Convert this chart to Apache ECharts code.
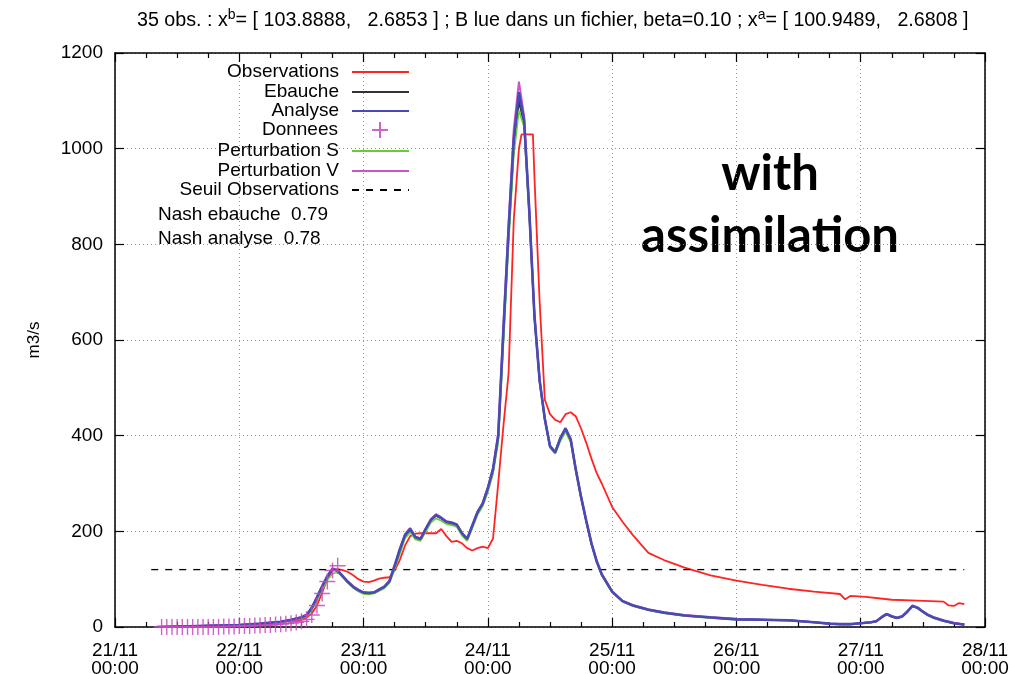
<!DOCTYPE html>
<html><head><meta charset="utf-8">
<script src="https://cdn.jsdelivr.net/npm/echarts@6/dist/echarts.min.js"></script>
<style>html,body{margin:0;padding:0;background:#fff}#c{width:1009px;height:674px}</style>
</head><body><div id="c"></div>
<script>
// ---- tick labels ----
const dayLabels = ['21/11','22/11','23/11','24/11','25/11','26/11','27/11','28/11'];
const timeLabel = '00:00';
// ---- data (x in hours since 21/11 00:00) ----
const obsHours = [8,12,16,20,24,28,32,36,37,38,39,40,41,42,43,44,45,46,47,48,49,50,51,52,53,54,55,56,57,58,59,60,61,62,63,64,65,66,67,68,69,70,71,72,73,74,75,76,77,78,78.5,79,80,80.7,81,82,83,84,85,86,87,88,89,90,91,92,93,94,96,98,100,103,106,110,115,120,125,130,135,140,141,142,145,150,155,160,161,162,163,164];
const obsValues = [0,0,1,2,3,6,10,15,20,28,45,72,100,118,121,119,115,108,100,95,94,97,101,103,104,118,140,170,190,195,196,196,196,196,205,190,178,180,175,165,160,165,168,165,185,300,420,530,850,1000,1030,1030,1030,1030,940,680,475,445,433,428,445,449,440,415,385,352,322,300,251,220,192,155,140,124,108,97,88,80,74,69,58,65,63,57,55,53,45,44,50,48];

const modelHours = [8,12,16,20,24,28,32,34,36,37,38,39,40,41,42,43,44,45,46,47,48,49,50,51,52,53,54,55,56,57,58,59,60,61,62,63,64,65,66,67,68,69,70,71,72,73,74,75,76,77,78,79,80,81,82,83,84,85,86,87,88,89,90,91,92,93,94,96,98,100,103,106,110,115,120,125,130,135,138,140,142,144,146,147,148,149,150,151,152,153,154,155,156,157,158,160,162,164];
const analyseValues = [0,1,2,3,4,7,11,15,20,25,40,62,85,106,121,118,106,94,84,77,72,71,72,78,84,96,128,162,192,205,188,184,205,224,234,228,220,218,214,196,184,212,240,258,290,330,400,620,830,1020,1118,1060,870,650,515,435,378,365,395,415,392,328,272,222,175,138,110,74,54,45,36,30,24,20,16,15,14,10,7,6,6,8,10,12,20,27,22,19,22,32,44,40,32,25,20,13,8,5];
const ebaucheValues = [0,1,2,3,4,7,11,15,20,25,39,61,84,105,120,117,105,93,83,76,71,70,72,77,83,95,127,160,190,203,187,183,204,223,233,227,219,217,213,195,183,211,239,257,289,328,395,610,820,1005,1100,1052,865,648,514,434,377,364,394,414,391,327,271,221,174,137,109,73,54,45,36,30,24,20,16,15,14,10,7,6,6,8,10,12,20,27,22,19,22,32,44,40,32,25,20,13,8,5];
const pertSValues = [0,1,2,3,4,6,10,14,18,22,35,55,78,98,112,114,104,92,82,74,69,68,70,75,81,92,120,152,185,198,183,180,199,218,227,222,215,213,209,191,180,206,234,252,282,320,385,590,800,985,1080,1045,862,646,512,432,375,362,388,408,386,324,269,220,173,136,108,72,53,44,35,29,23,19,15,14,13,10,7,6,6,8,10,12,20,26,22,19,22,31,43,39,31,24,19,12,8,5];
const pertVValues = [0,1,2,3,4,7,11,15,21,26,41,63,86,107,123,119,107,95,85,78,73,72,73,79,85,97,130,164,194,207,189,185,206,226,236,229,221,219,215,197,185,213,241,260,292,333,405,630,845,1040,1140,1068,875,653,517,436,379,366,396,416,393,329,273,223,176,139,111,75,55,46,37,31,25,21,17,15,14,10,7,6,6,8,10,12,21,28,23,20,23,33,45,41,33,26,21,14,9,5];

const donneesHours = [9,10,11,12,13,14,15,16,17,18,19,20,21,22,23,24,25,26,27,28,29,30,31,32,33,34,35,36,37,38,39,40,41,42,43];
const donneesValues = [0,0,0,0,0,0,0,0,0,0,0,0,1,1,1,2,2,2,3,3,4,4,5,6,7,8,10,12,16,25,45,70,95,118,128];

const seuilHours = [7,164];
const seuilValues = [120,120];

const nashLines = ['Nash ebauche  0.79', 'Nash analyse  0.78'];
const overlayText = ['with', 'assimilation'];

function pairs(xs, ys){ return xs.map((x,i)=>[x, ys[i]]); }

const FONT = 'Liberation Sans';
const FS = 19;
const names = ['Observations','Ebauche','Analyse','Donnees','Perturbation S','Perturbation V','Seuil Observations'];
const legendTops = [62,82,101,121,141,161,180];

const chart = echarts.init(document.getElementById('c'), null, {renderer:'canvas'});

const xAxisBase = {
  type:'value', min:0, max:168, interval:24,
  axisLine:{show:true, onZero:false, lineStyle:{color:'#000', width:1.5}},
  axisTick:{show:true, inside:true, length:9, lineStyle:{color:'#000', width:1.2}},
  minorTick:{show:true, splitNumber:4, length:5, lineStyle:{color:'#000', width:1.2}},
};
const yAxisBase = {
  type:'value', min:0, max:1200, interval:200,
  axisLine:{show:true, onZero:false, lineStyle:{color:'#000', width:1.5}},
  axisTick:{show:true, inside:true, length:9, lineStyle:{color:'#000', width:1.2}},
};

const legends = names.map((n,i)=>{
  const isMarker = (n === 'Donnees');
  return {
    orient:'vertical', right: isMarker ? 620 : 599, top: isMarker ? legendTops[i]-1 : legendTops[i], padding:0,
    align:'right', itemWidth: isMarker ? 16 : 57, itemHeight: isMarker ? 16 : 14, selectedMode:false,
    data:[n],
    itemStyle: isMarker ? {} : {opacity:0, color:'rgba(0,0,0,0)', borderWidth:0},
    textStyle:{fontFamily:FONT, fontSize:FS, color:'#000', padding:[0, isMarker ? 29 : 8, 0, 0], lineHeight:20}
  };
});

chart.setOption({
  animation:false,
  backgroundColor:'#fff',
  title:{
    left:137, top:8, padding:0,
    text:'35 obs. : x{sup|b}= [ 103.8888,   2.6853 ] ; B lue dans un fichier, beta=0.10 ; x{sup|a}= [ 100.9489,   2.6808 ]',
    textStyle:{fontFamily:FONT, fontSize:19.7, fontWeight:'normal', color:'#000',
      rich:{sup:{fontFamily:FONT, fontSize:14, color:'#000', padding:[0,0,11,0]}}}
  },
  legend: legends,
  grid:{left:115, right:24, top:53, bottom:47, outerBoundsMode:'none', containLabel:false},
  xAxis:[
    Object.assign({}, xAxisBase, {
      position:'bottom',
      splitLine:{show:true, lineStyle:{color:'#999', type:[1,3], width:1}},
      axisLabel:{show:true, margin:15, fontFamily:FONT, fontSize:FS, color:'#000', lineHeight:18,
        formatter:function(v){ return dayLabels[Math.round(v/24)] + '\n' + timeLabel; }}
    }),
    Object.assign({}, xAxisBase, {
      position:'top', splitLine:{show:false}, axisLabel:{show:false}
    })
  ],
  yAxis:[
    Object.assign({}, yAxisBase, {
      position:'left',
      name:'m3/s', nameLocation:'middle', nameGap:72, nameRotate:90,
      nameTextStyle:{fontFamily:FONT, fontSize:17, color:'#000'},
      splitLine:{show:true, lineStyle:{color:'#999', type:[1,3], width:1}},
      axisLabel:{show:true, margin:12, fontFamily:FONT, fontSize:FS, color:'#000',
        formatter:function(v){ return String(v); }}
    }),
    Object.assign({}, yAxisBase, {
      position:'right', splitLine:{show:false}, axisLabel:{show:false}
    })
  ],
  series:[
    {name:'Observations', type:'line', data:pairs(obsHours, obsValues), symbol:'none', z:3,
      lineStyle:{color:'#ff2424', width:1.8}, itemStyle:{color:'#ff2424'}},
    {name:'Ebauche', type:'line', data:pairs(modelHours, ebaucheValues), symbol:'none', z:2,
      lineStyle:{color:'#333333', width:2}, itemStyle:{color:'#333333'}},
    {name:'Analyse', type:'line', data:pairs(modelHours, analyseValues), symbol:'none', z:6,
      lineStyle:{color:'#4a4ab4', width:2.6}, itemStyle:{color:'#4a4ab4'}},
    {name:'Donnees', type:'scatter', data:pairs(donneesHours, donneesValues), z:7,
      symbol:'path://M8,0 L8,16 M0,8 L16,8', symbolSize:16, symbolKeepAspect:true,
      itemStyle:{color:'rgba(0,0,0,0)', borderColor:'#c548c0', borderWidth:1.4, opacity:0.85}},
    {name:'Perturbation S', type:'line', data:pairs(modelHours, pertSValues), symbol:'none', z:4,
      lineStyle:{color:'#66cc33', width:1.6}, itemStyle:{color:'#66cc33'}},
    {name:'Perturbation V', type:'line', data:pairs(modelHours, pertVValues), symbol:'none', z:5,
      lineStyle:{color:'#cc55cc', width:2}, itemStyle:{color:'#cc55cc'}},
    {name:'Seuil Observations', type:'line', data:pairs(seuilHours, seuilValues), symbol:'none', z:3,
      lineStyle:{color:'#000', width:1.3, type:[7,7]}, itemStyle:{color:'#000'}}
  ],
  graphic:[
    {type:'text', left:158, top:205, style:{text:nashLines[0], font:FS+'px "Liberation Sans"', fill:'#000'}},
    {type:'text', left:158, top:229, style:{text:nashLines[1], font:FS+'px "Liberation Sans"', fill:'#000'}},
    {type:'text', x:770, y:174, style:{text:overlayText[0], font:'bold 49px Lato', fill:'#000', textAlign:'center', textVerticalAlign:'middle'}},
    {type:'text', x:770, y:236, style:{text:overlayText[1], font:'bold 49px Lato', fill:'#000', textAlign:'center', textVerticalAlign:'middle'}}
  ]
});
</script></body></html>
